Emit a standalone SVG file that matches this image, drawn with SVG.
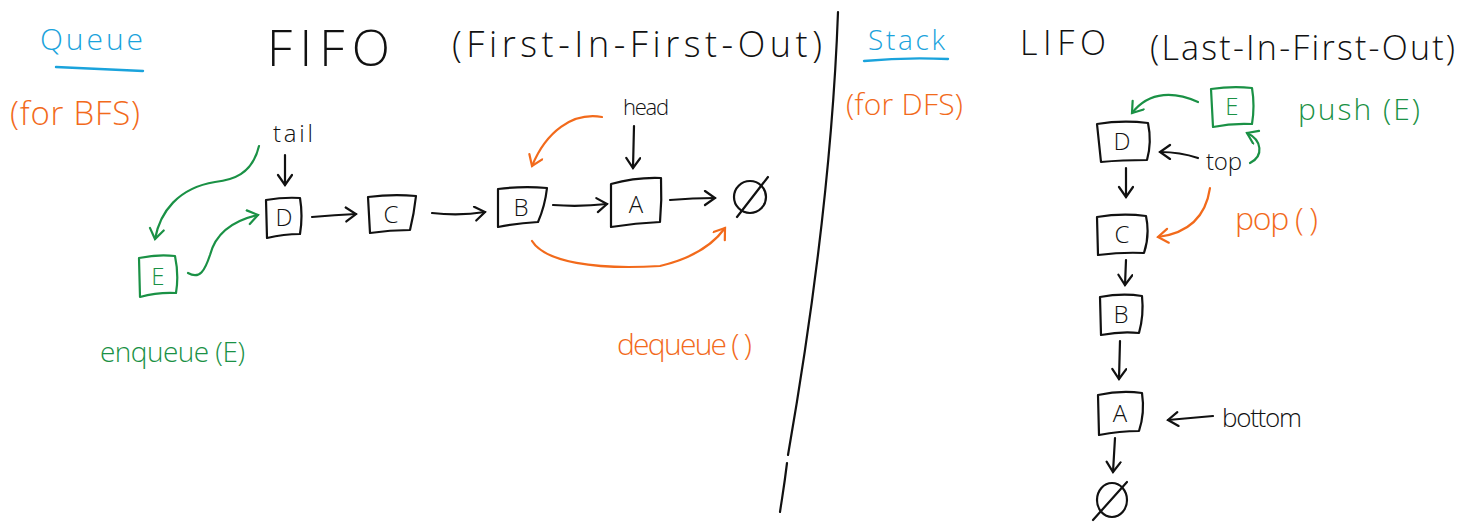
<svg xmlns="http://www.w3.org/2000/svg" width="1462" height="526" viewBox="0 0 1462 526">
<style>
text{font-family:"Open Sans","DejaVu Sans",sans-serif;font-weight:300;}
.k{fill:#111;} .g{fill:#1a9145;} .o{fill:#f26a1b;} .b{fill:#1aa3dc;}
.box{fill:none;stroke:#111;stroke-width:2.2;stroke-linejoin:round;}
.gbox{fill:none;stroke:#1a9145;stroke-width:2.2;stroke-linejoin:round;}
.lk{fill:none;stroke:#111;stroke-width:2.2;stroke-linecap:round;}
.lg{fill:none;stroke:#1a9145;stroke-width:2.2;stroke-linecap:round;}
.lo{fill:none;stroke:#f26a1b;stroke-width:2.2;stroke-linecap:round;}
.lb{fill:none;stroke:#1aa3dc;stroke-width:2.4;stroke-linecap:round;}
.nl{text-anchor:middle;font-size:24px;}
</style>
<defs>
<marker id="ak" markerUnits="userSpaceOnUse" markerWidth="20" markerHeight="20" refX="12" refY="8" orient="auto"><path d="M2,1 L12,8 L2,15" fill="none" stroke="#111" stroke-width="2.2" stroke-linecap="round"/></marker>
<marker id="ag" markerUnits="userSpaceOnUse" markerWidth="20" markerHeight="20" refX="12" refY="8" orient="auto"><path d="M2,1 L12,8 L2,15" fill="none" stroke="#1a9145" stroke-width="2.2" stroke-linecap="round"/></marker>
<marker id="ao" markerUnits="userSpaceOnUse" markerWidth="20" markerHeight="20" refX="12" refY="8" orient="auto"><path d="M2,1 L12,8 L2,15" fill="none" stroke="#f26a1b" stroke-width="2.2" stroke-linecap="round"/></marker>
</defs>
<rect width="1462" height="526" fill="#fff"/>

<g id="titles">
<text class="b" x="40" y="50" font-size="30" textLength="103" lengthAdjust="spacing">Queue</text>
<path class="lb" d="M56,67 Q100,69 143,71"/>
<text class="o" x="10" y="125" font-size="33" textLength="130" lengthAdjust="spacing">(for BFS)</text>
<text class="k" x="267" y="66" font-size="50" textLength="123" lengthAdjust="spacing">FIFO</text>
<text class="k" x="452" y="57" font-size="36" textLength="370" lengthAdjust="spacing">(First-In-First-Out)</text>
<text class="b" x="868" y="50" font-size="28" textLength="77" lengthAdjust="spacing">Stack</text>
<path class="lb" d="M864,61 Q905,57 948,59"/>
<text class="o" x="846" y="115" font-size="30" textLength="117" lengthAdjust="spacing">(for DFS)</text>
<text class="k" x="1020" y="55" font-size="34" textLength="86" lengthAdjust="spacing">LIFO</text>
<text class="k" x="1150" y="60" font-size="34" textLength="305" lengthAdjust="spacing">(Last-In-First-Out)</text>
</g>

<g id="divider"><path class="lk" d="M838,12 C833,150 815,300 788,455 M787,463 C784,488 782,498 780,512"/></g>

<g id="labels">
<text class="k" x="273" y="142" font-size="24" textLength="40" lengthAdjust="spacing">tail</text>
<text class="k" x="623" y="115" font-size="22" textLength="46" lengthAdjust="spacing">head</text>
<text class="g" x="100" y="362" font-size="28" textLength="145" lengthAdjust="spacing">enqueue (E)</text>
<text class="o" x="617" y="355" font-size="30" textLength="135" lengthAdjust="spacing">dequeue ( )</text>
<text class="g" x="1298" y="120" font-size="30" textLength="122" lengthAdjust="spacing">push (E)</text>
<text class="o" x="1235" y="230" font-size="32" textLength="83" lengthAdjust="spacing">pop ( )</text>
<text class="k" x="1206" y="170" font-size="24" textLength="36" lengthAdjust="spacing">top</text>
<text class="k" x="1222" y="427" font-size="26" textLength="80" lengthAdjust="spacing">bottom</text>
</g>

<g id="q-E"><path class="gbox" d="M139,258 Q158,254 175,256 Q179,275 176,293 Q158,292 140,297 Z"/><text class="g nl" x="158" y="285">E</text></g>
<g id="q-D"><path class="box" d="M266,200 Q284,197 300,198 Q303,216 300,234 Q284,234 267,238 Z"/><text class="k nl" x="284" y="226">D</text></g>
<g id="q-C"><path class="box" d="M368,197 Q392,194 416,196 Q414,214 410,230 Q390,230 370,233 Z"/><text class="k nl" x="391" y="223">C</text></g>
<g id="q-B"><path class="box" d="M498,189 Q522,186 547,188 Q545,206 538,222 Q518,223 498,227 Z"/><text class="k nl" x="521" y="216">B</text></g>
<g id="q-A"><path class="box" d="M611,184 Q636,177 661,178 Q662,200 660,222 Q636,223 611,227 Z"/><text class="k nl" x="636" y="213">A</text></g>
<g id="q-null"><ellipse cx="750" cy="197" rx="16" ry="16" fill="none" stroke="#111" stroke-width="2.2"/><path class="lk" d="M737,217 L768,177"/></g>

<g id="s-E"><path class="gbox" d="M1211,89 Q1232,86 1252,88 Q1255,106 1252,124 Q1232,123 1213,127 Z"/><text class="g nl" x="1232" y="115">E</text></g>
<g id="s-D"><path class="box" d="M1097,124 Q1122,120 1148,123 Q1152,142 1147,160 Q1122,160 1101,162 Z"/><text class="k nl" x="1122" y="150">D</text></g>
<g id="s-C"><path class="box" d="M1097,217 Q1122,213 1146,216 Q1150,235 1144,253 Q1122,252 1098,255 Z"/><text class="k nl" x="1122" y="243">C</text></g>
<g id="s-B"><path class="box" d="M1100,297 Q1122,293 1142,296 Q1144,315 1139,333 Q1122,331 1101,335 Z"/><text class="k nl" x="1121" y="323">B</text></g>
<g id="s-A"><path class="box" d="M1098,395 Q1121,390 1142,393 Q1145,413 1139,431 Q1120,431 1099,435 Z"/><text class="k nl" x="1120" y="422">A</text></g>
<g id="s-null"><ellipse cx="1112" cy="500" rx="15" ry="17" fill="none" stroke="#111" stroke-width="2.2"/><path class="lk" d="M1093,520 L1127,482"/></g>

<g id="connectors">
<path class="lk" d="M285,155 L285,185" marker-end="url(#ak)"/>
<path class="lk" d="M634,126 L633,168" marker-end="url(#ak)"/>
<path class="lk" d="M312,217 Q335,215 356,214" marker-end="url(#ak)"/>
<path class="lk" d="M432,213 Q460,216 485,212" marker-end="url(#ak)"/>
<path class="lk" d="M553,205 Q580,207 607,204" marker-end="url(#ak)"/>
<path class="lk" d="M670,200 Q693,198 715,198" marker-end="url(#ak)"/>
<path class="lg" d="M259,146 C252,175 232,180 215,182 C178,188 160,212 155,239" marker-end="url(#ag)"/>
<path class="lg" d="M188,273 C200,280 205,270 210,255 C216,232 236,220 258,215" marker-end="url(#ag)"/>
<path class="lo" d="M602,117 C572,112 546,132 532,166" marker-end="url(#ao)"/>
<path class="lo" d="M532,241 C545,262 595,270 660,266 C690,259 712,246 725,228" marker-end="url(#ao)"/>
<path class="lk" d="M1126,168 L1126,197" marker-end="url(#ak)"/>
<path class="lk" d="M1126,260 L1125,285" marker-end="url(#ak)"/>
<path class="lk" d="M1120,341 L1119,379" marker-end="url(#ak)"/>
<path class="lk" d="M1115,438 L1113,472" marker-end="url(#ak)"/>
<path class="lk" d="M1198,158 Q1180,152 1160,152" marker-end="url(#ak)"/>
<path class="lk" d="M1213,416 Q1190,418 1168,420" marker-end="url(#ak)"/>
<path class="lg" d="M1198,102 C1176,92 1150,90 1132,113" marker-end="url(#ag)"/>
<path class="lg" d="M1250,163 C1264,156 1262,140 1247,133" marker-end="url(#ag)"/>
<path class="lo" d="M1210,188 C1206,215 1190,233 1158,237" marker-end="url(#ao)"/>
</g>
</svg>
